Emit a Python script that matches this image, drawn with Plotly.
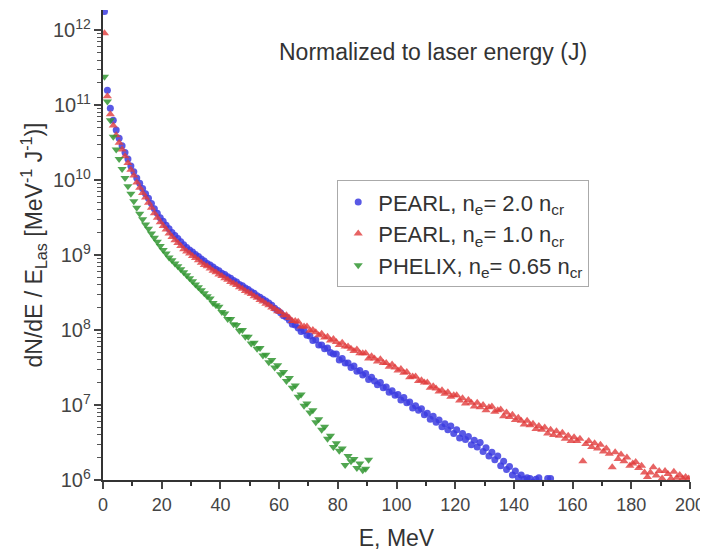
import numpy as np
import plotly.graph_objects as go

# Energy bins (MeV), 1 MeV wide, bin centres
E_STEP = 1.0

# PEARL, ne = 2.0 ncr (blue)
blue_vals = [
    1.78e12, 1.58e11, 9.12e10, 6.31e10, 4.68e10, 3.63e10, 2.88e10, 2.34e10, 1.91e10, 1.55e10,
    1.29e10, 1.07e10, 9.12e9, 7.76e9, 6.61e9, 5.75e9, 4.90e9, 4.17e9, 3.63e9, 3.16e9,
    2.82e9, 2.51e9, 2.24e9, 2.00e9, 1.82e9, 1.66e9, 1.51e9, 1.38e9, 1.26e9, 1.17e9,
    1.10e9, 1.02e9, 9.55e8, 8.91e8, 8.32e8, 7.76e8, 7.41e8, 6.92e8, 6.46e8, 6.17e8,
    5.75e8, 5.50e8, 5.13e8, 4.90e8, 4.57e8, 4.37e8, 4.07e8, 3.89e8, 3.63e8, 3.47e8,
    3.24e8, 3.09e8, 2.88e8, 2.75e8, 2.57e8, 2.45e8, 2.29e8, 2.14e8, 1.95e8, 1.82e8,
    1.70e8, 1.55e8, 1.48e8, 1.35e8, 1.20e8, 1.17e8, 1.07e8, 9.55e7, 9.77e7, 8.51e7,
    8.32e7, 7.24e7, 7.41e7, 6.31e7, 6.31e7, 5.62e7, 5.75e7, 5.01e7, 4.79e7, 4.79e7,
    3.98e7, 4.17e7, 3.63e7, 3.63e7, 3.16e7, 3.31e7, 2.82e7, 2.88e7, 2.51e7, 2.63e7,
    2.19e7, 2.34e7, 2.09e7, 1.86e7, 2.00e7, 1.70e7, 1.74e7, 1.48e7, 1.55e7, 1.35e7,
    1.38e7, 1.17e7, 1.26e7, 1.07e7, 1.10e7, 9.12e6, 9.77e6, 8.51e6, 8.91e6, 7.41e6,
    7.76e6, 6.46e6, 7.08e6, 5.89e6, 6.31e6, 5.13e6, 5.62e6, 4.68e6, 5.25e6, 4.17e6,
    4.68e6, 3.63e6, 4.17e6, 3.47e6, 3.80e6, 2.95e6, 3.39e6, 2.75e6, 3.16e6, 2.40e6,
    2.69e6, 2.09e6, 2.34e6, 1.86e6, 2.09e6, 1.55e6, 1.78e6, 1.38e6, 1.51e6, 1.17e6,
    1.32e6, 1.07e6, 1.17e6, 1.02e6, 1.07e6, 1.05e6, 9.33e5, 1.02e6, 1.07e6, 9.12e5,
    8.91e5, 1.05e6, 1.05e6,
]

# PEARL, ne = 1.0 ncr (red)
red_vals = [
    9.12e11, 1.32e11, 7.59e10, 5.37e10, 3.98e10, 3.16e10, 2.57e10, 2.09e10, 1.70e10, 1.38e10,
    1.15e10, 9.33e9, 7.94e9, 6.76e9, 5.89e9, 5.01e9, 4.27e9, 3.63e9, 3.16e9, 2.75e9,
    2.45e9, 2.19e9, 1.95e9, 1.74e9, 1.58e9, 1.45e9, 1.32e9, 1.20e9, 1.12e9, 1.05e9,
    9.77e8, 9.12e8, 8.51e8, 7.94e8, 7.41e8, 7.08e8, 6.61e8, 6.17e8, 5.89e8, 5.50e8,
    5.25e8, 4.90e8, 4.68e8, 4.37e8, 4.17e8, 3.98e8, 3.72e8, 3.55e8, 3.31e8, 3.16e8,
    3.02e8, 2.82e8, 2.69e8, 2.51e8, 2.40e8, 2.24e8, 2.14e8, 2.00e8, 1.91e8, 1.78e8,
    1.74e8, 1.58e8, 1.58e8, 1.45e8, 1.32e8, 1.32e8, 1.29e8, 1.12e8, 1.12e8, 1.12e8,
    9.77e7, 1.00e8, 9.33e7, 8.51e7, 8.91e7, 7.94e7, 8.13e7, 7.24e7, 7.59e7, 6.92e7,
    6.31e7, 6.76e7, 6.03e7, 6.03e7, 5.62e7, 5.25e7, 5.50e7, 4.90e7, 4.90e7, 4.90e7,
    4.17e7, 4.47e7, 4.17e7, 3.80e7, 4.07e7, 3.63e7, 3.63e7, 3.24e7, 3.47e7, 3.16e7,
    2.88e7, 3.02e7, 2.69e7, 2.75e7, 2.34e7, 2.40e7, 2.40e7, 2.09e7, 2.14e7, 2.00e7,
    2.00e7, 1.70e7, 1.78e7, 1.66e7, 1.51e7, 1.58e7, 1.41e7, 1.48e7, 1.29e7, 1.35e7,
    1.35e7, 1.15e7, 1.23e7, 1.05e7, 1.17e7, 1.07e7, 9.55e6, 1.07e7, 9.33e6, 1.00e7,
    8.51e6, 9.33e6, 9.55e6, 8.13e6, 8.51e6, 8.71e6, 7.08e6, 7.94e6, 6.92e6, 7.41e6,
    6.31e6, 6.76e6, 6.17e6, 5.50e6, 6.17e6, 5.37e6, 5.62e6, 4.79e6, 5.25e6, 4.68e6,
    5.01e6, 4.17e6, 4.68e6, 3.98e6, 4.47e6, 3.89e6, 4.27e6, 3.55e6, 3.89e6, 3.31e6,
    3.72e6, 3.31e6, 3.55e6, 1.78e6, 3.02e6, 3.31e6, 2.75e6, 3.09e6, 2.63e6, 2.95e6,
    2.40e6, 2.63e6, 2.24e6, 1.48e6, 2.34e6, 1.91e6, 2.19e6, 1.78e6, 2.00e6, 1.55e6,
    1.66e6, 1.74e6, 1.45e6, 1.55e6, 1.26e6, 1.10e6, 1.26e6, 1.48e6, 1.15e6, 1.32e6,
    1.05e6, 1.32e6, 1.20e6, 1.05e6, 1.29e6, 1.07e6, 1.17e6, 1.05e6, 1.10e6, 1.05e6,
]

# PHELIX, ne = 0.65 ncr (green)
green_vals = [
    2.40e11, 1.12e11, 6.31e10, 3.80e10, 2.57e10, 1.91e10, 1.41e10, 1.07e10, 8.32e9, 6.61e9,
    5.25e9, 4.27e9, 3.55e9, 3.02e9, 2.57e9, 2.24e9, 1.95e9, 1.70e9, 1.51e9, 1.32e9,
    1.17e9, 1.05e9, 9.33e8, 8.51e8, 7.76e8, 7.08e8, 6.46e8, 5.89e8, 5.37e8, 4.90e8,
    4.47e8, 4.07e8, 3.72e8, 3.39e8, 3.09e8, 2.82e8, 2.63e8, 2.29e8, 2.14e8, 2.04e8,
    1.74e8, 1.66e8, 1.41e8, 1.41e8, 1.20e8, 1.17e8, 9.77e7, 1.00e8, 8.13e7, 8.13e7,
    6.61e7, 6.76e7, 5.62e7, 5.75e7, 4.57e7, 4.68e7, 3.72e7, 3.98e7, 3.16e7, 3.39e7,
    2.57e7, 2.75e7, 2.09e7, 2.29e7, 1.70e7, 1.82e7, 1.29e7, 1.38e7, 9.77e6, 1.05e7,
    7.94e6, 8.51e6, 5.89e6, 6.46e6, 4.68e6, 5.13e6, 3.55e6, 3.89e6, 2.75e6, 3.09e6,
    2.45e6, 2.63e6, 1.58e6, 2.09e6, 1.78e6, 1.91e6, 1.45e6, 1.66e6, 1.35e6, 1.41e6,
    1.86e6,
]

blue_E = 0.5 + E_STEP * np.arange(len(blue_vals))
red_E = 0.5 + E_STEP * np.arange(len(red_vals))
green_E = 0.5 + E_STEP * np.arange(len(green_vals))

series_names = [
    "PEARL, n<sub>e</sub>= 2.0 n<sub>cr</sub>",
    "PEARL, n<sub>e</sub>= 1.0 n<sub>cr</sub>",
    "PHELIX, n<sub>e</sub>= 0.65 n<sub>cr</sub>",
]
x_ticks = [0, 20, 40, 60, 80, 100, 120, 140, 160, 180, 200]

FONT = "Liberation Sans, Arial, sans-serif"

fig = go.Figure()
fig.add_trace(go.Scatter(
    x=blue_E, y=blue_vals, mode="markers", name=series_names[0],
    marker=dict(symbol="circle", size=7, color="rgba(60,60,225,0.85)", line=dict(width=0)),
))
fig.add_trace(go.Scatter(
    x=red_E, y=red_vals, mode="markers", name=series_names[1],
    marker=dict(symbol="triangle-up", size=8, color="rgba(225,60,60,0.8)", line=dict(width=0)),
))
fig.add_trace(go.Scatter(
    x=green_E, y=green_vals, mode="markers", name=series_names[2],
    marker=dict(symbol="triangle-down", size=8, color="rgba(50,150,50,0.85)", line=dict(width=0)),
))

fig.update_layout(
    width=708, height=555,
    margin=dict(l=95, r=26, t=2, b=83, autoexpand=False),
    paper_bgcolor="white", plot_bgcolor="white",
    font=dict(family=FONT, color="#333", size=16),
    showlegend=True,
    legend=dict(
        x=0.399, y=0.638, xanchor="left", yanchor="top",
        bordercolor="#aaaaaa", borderwidth=1, bgcolor="white",
        font=dict(size=22, color="#333"),
        tracegroupgap=2,
    ),
    annotations=[dict(
        text="Normalized to laser energy (J)", x=0.562, y=0.911,
        xref="paper", yref="paper", xanchor="center", yanchor="middle",
        showarrow=False,
        font=dict(size=23, color="#333"),
    )],
)
fig.update_xaxes(
    range=[0, 200], tickvals=x_ticks, ticks="outside", ticklen=7, tickwidth=1.5,
    showline=True, linecolor="#333", linewidth=2, showgrid=False, zeroline=False,
    tickfont=dict(size=18, color="#444"), automargin=False,
    minor=dict(ticks="outside", ticklen=4, tickwidth=1.5, dtick=10, tickcolor="#333", showgrid=False),
    title=dict(text="E, MeV", font=dict(size=23, color="#333"), standoff=16),
)
fig.update_yaxes(
    type="log", range=[6, 12.27], dtick=1, exponentformat="power",
    ticks="outside", ticklen=7, tickwidth=1.5,
    showline=True, linecolor="#333", linewidth=2, showgrid=False, zeroline=False,
    tickfont=dict(size=16, color="#444"), automargin=False,
    minor=dict(ticks="outside", ticklen=4, tickwidth=1, dtick="D1", tickcolor="#555", showgrid=False),
    title=dict(text="dN/dE / E<sub>Las</sub> [MeV<sup>-1</sup> J<sup>-1</sup>)]",
               font=dict(size=23, color="#333"), standoff=4),
)

fig.write_html("out.html")
